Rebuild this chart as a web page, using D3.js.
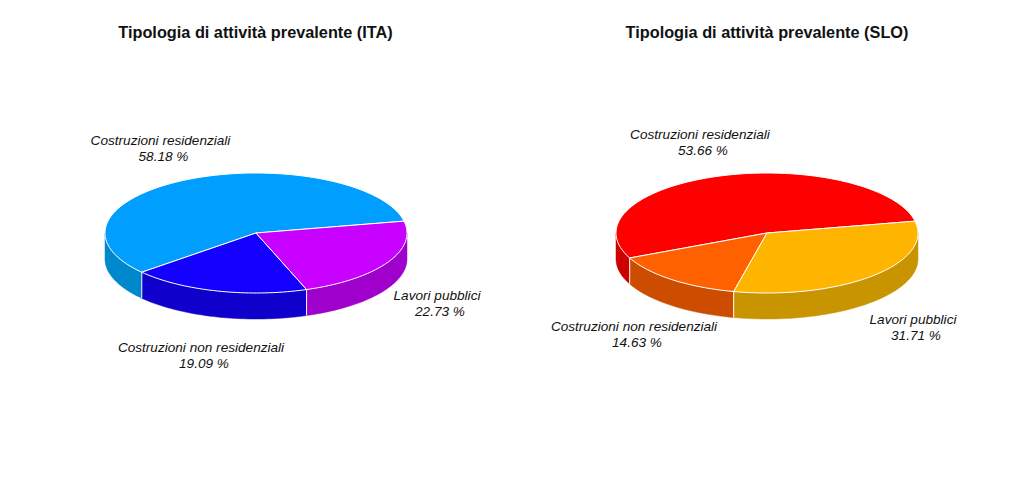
<!DOCTYPE html>
<html>
<head>
<meta charset="utf-8">
<script src="https://cdn.jsdelivr.net/npm/d3@7"></script>
<style>
  html, body { margin: 0; background: #fff; }
  svg { display: block; }
  text { font-family: "Liberation Sans", Arial, sans-serif; fill: #111; }
  .title { font-size: 16.3px; font-weight: bold; }
  .lab { font-size: 13.6px; font-style: italic; }
</style>
</head>
<body>
<svg id="chart" width="1023" height="493"></svg>
<script>
const categories = ["Costruzioni residenziali", "Costruzioni non residenziali", "Lavori pubblici"];
const valuesIta = [58.18, 19.09, 22.73];
const valuesSlo = [53.66, 14.63, 31.71];
const topColorsIta = ["#009fff", "#1300ff", "#c800ff"];
const sideColorsIta = ["#0088cc", "#1000cc", "#a000cc"];
const topColorsSlo = ["#ff0000", "#ff6000", "#ffb400"];
const sideColorsSlo = ["#cc0000", "#cc4c00", "#c89400"];
const titleIta = "Tipologia di attività prevalente (ITA)";
const titleSlo = "Tipologia di attività prevalente (SLO)";

const svg = d3.select("#chart");
const rx = 151,
  ry = 60,
  depth = 26,
  cy = 233;
const rad = Math.PI / 180;
const startDeg = 11.4;

// d3 angles run clockwise from 12 o'clock, the pie goes counter clockwise
const pie = d3
  .pie()
  .sort(null)
  .startAngle(Math.PI / 2 - startDeg * rad)
  .endAngle(Math.PI / 2 - startDeg * rad - 2 * Math.PI);

function drawPie(cfg) {
  const x = d3.scaleLinear().domain([-1, 1]).range([cfg.cx - rx, cfg.cx + rx]);
  const y = d3.scaleLinear().domain([-1, 1]).range([cy - ry, cy + ry]);
  const g = svg.append("g");
  const slices = pie(cfg.values);

  const arcPoints = (a0, a1) => {
    const n = Math.max(2, Math.ceil(Math.abs(a1 - a0) / (rad * 1.5)));
    return d3.range(n + 1).map((i) => a0 + ((a1 - a0) * i) / n);
  };
  const line = d3.line();

  // side wall, only the front half is visible (angles -270..-90 deg)
  const frontA = -Math.PI / 2,
    frontB = (-3 * Math.PI) / 2;
  slices.forEach((s, i) => {
    const a0 = Math.min(s.startAngle, frontA);
    const a1 = Math.max(s.endAngle, frontB);
    if (a0 <= a1) return;
    const pts = arcPoints(a0, a1);
    const upper = pts.map((a) => [x(Math.sin(a)), y(-Math.cos(a))]);
    const lower = pts.map((a) => [x(Math.sin(a)), y(-Math.cos(a)) + depth]).reverse();
    g.append("path")
      .attr("d", line(upper.concat(lower)) + "Z")
      .attr("fill", cfg.sideColors[i])
      .attr("stroke", cfg.sideColors[i])
      .attr("stroke-width", 0.5);
  });

  // white edges between the side walls
  slices.forEach((s) => {
    const a = s.startAngle;
    if (a < frontA && a > frontB) {
      g.append("line")
        .attr("x1", x(Math.sin(a)))
        .attr("x2", x(Math.sin(a)))
        .attr("y1", y(-Math.cos(a)))
        .attr("y2", y(-Math.cos(a)) + depth)
        .attr("stroke", "#fff")
        .attr("stroke-width", 1);
    }
  });

  // top face
  slices.forEach((s, i) => {
    const pts = arcPoints(s.startAngle, s.endAngle).map((a) => [x(Math.sin(a)), y(-Math.cos(a))]);
    pts.unshift([x(0), y(0)]);
    g.append("path")
      .attr("d", line(pts) + "Z")
      .attr("fill", cfg.topColors[i])
      .attr("stroke", "#fff")
      .attr("stroke-width", 1);
  });

  svg
    .append("text")
    .attr("class", "title")
    .attr("x", cfg.titleX)
    .attr("y", 38)
    .attr("text-anchor", "middle")
    .text(cfg.title);

  // the percent line sits a little right of the label centre, as in R
  cfg.labelPos.forEach((p, i) => {
    const t = svg
      .append("text")
      .attr("class", "lab")
      .attr("text-anchor", "middle");
    t.append("tspan").attr("x", p[0]).attr("y", p[1]).text(categories[i]);
    t.append("tspan").attr("x", p[0] + 3).attr("y", p[1] + 16).text(cfg.values[i].toFixed(2) + " %");
  });
}

drawPie({
  cx: 256,
  titleX: 255.5,
  title: titleIta,
  values: valuesIta,
  topColors: topColorsIta,
  sideColors: sideColorsIta,
  labelPos: [[160.5, 145], [201, 352], [437, 300]],
});

drawPie({
  cx: 767,
  titleX: 767,
  title: titleSlo,
  values: valuesSlo,
  topColors: topColorsSlo,
  sideColors: sideColorsSlo,
  labelPos: [[700, 139], [634, 331], [913, 324]],
});
</script>
</body>
</html>
